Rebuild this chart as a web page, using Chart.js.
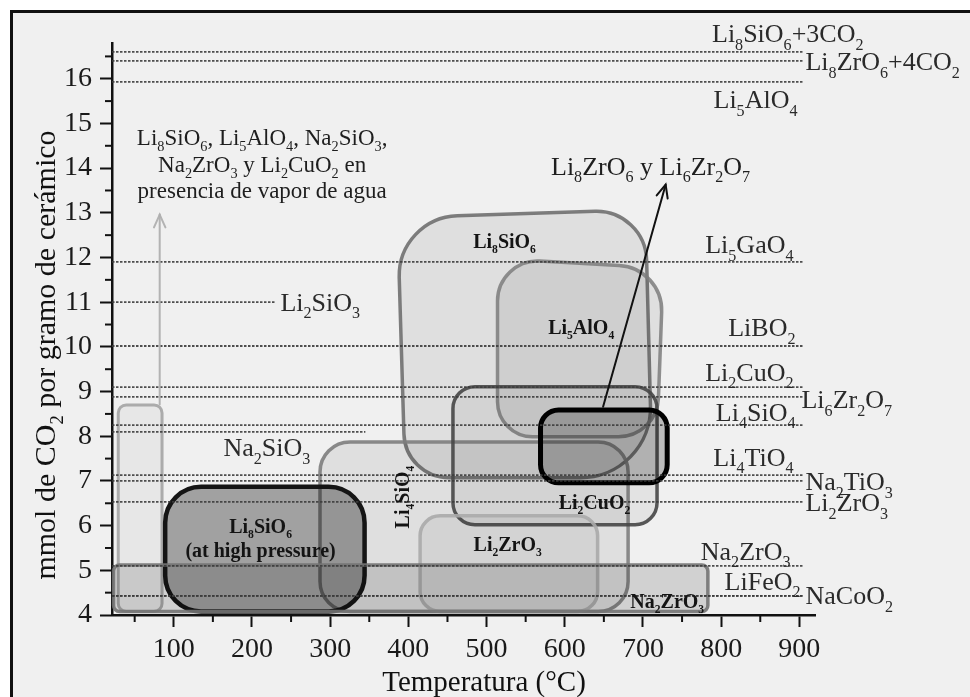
<!DOCTYPE html>
<html>
<head>
<meta charset="utf-8">
<script src="https://cdn.jsdelivr.net/npm/chart.js@4.4.1/dist/chart.umd.min.js"></script>
<style>
html,body{margin:0;padding:0;background:#fff;}
canvas{display:block;}
</style>
</head>
<body>
<canvas id="c" width="970" height="697"></canvas>
<script>
// ---------------- DATA ----------------
const xMajorTicks = [100, 200, 300, 400, 500, 600, 700, 800, 900];
const xMinorTicks = [50, 150, 250, 350, 450, 550, 650, 750, 850];
const yMajorTicks = [4, 5, 6, 7, 8, 9, 10, 11, 12, 13, 14, 15, 16];
const yMinorTicks = [4.5, 5.5, 6.5, 7.5, 8.5, 9.5, 10.5, 11.5, 12.5, 13.5, 14.5, 15.5, 16.5];

// theoretical capacities (reference dotted lines)
const refNames = ['Li8SiO6+3CO2', 'Li8ZrO6+4CO2', 'Li5AlO4', 'Li5GaO4', 'Li2SiO3', 'LiBO2', 'Li2CuO2',
  'Li6Zr2O7', 'Li4SiO4', 'Na2SiO3', 'Li4TiO4', 'Na2TiO3', 'Li2ZrO3', 'Na2ZrO3', 'LiFeO2', 'NaCoO2'];
const refCapacity = [16.60, 16.40, 15.93, 11.90, 11.00, 10.02, 9.10, 8.88, 8.25, 8.10, 7.13, 7.00, 6.53, 5.10, 4.43, 4.43];
const refTempStart = [21, 21, 21, 21, 21, 21, 21, 21, 21, 21, 21, 21, 21, 21, 21, 21];
const refTempEnd = [904, 904, 904, 904, 230, 904, 904, 904, 904, 345, 904, 904, 904, 904, 904, 904];

// experimental regions (rounded rectangles)
const boxNames = ['vapor de agua', 'Li8SiO6 (at high pressure)', 'Li4SiO4', 'Li2ZrO3', 'Li2CuO2', 'Na2ZrO3', 'Li8ZrO6 y Li6Zr2O7'];
const boxTempMin = [29, 89, 287, 415, 457, 23, 569];
const boxTempMax = [85, 344, 681, 642, 718, 783, 731];
const boxCapMin = [4.08, 4.08, 4.08, 4.08, 6.02, 4.08, 6.96];
const boxCapMax = [8.70, 6.87, 7.87, 6.22, 9.11, 5.12, 8.59];

// experimental regions (irregular rounded quadrilaterals: TL, TR, BR, BL)
const blobNames = ['Li8SiO6', 'Li5AlO4'];
const blobTemp = [[386, 703, 712, 396], [514, 726, 718, 514]];
const blobCap = [[12.89, 13.07, 7.07, 7.07], [11.97, 11.77, 7.99, 7.99]];

// arrows [start, end]
const arrowTemp = [[82, 82], [649, 729]];
const arrowCap = [[8.71, 12.96], [8.66, 13.63]];

// ---------------- LAYOUT / STYLE (not data) ----------------
const SERIF = '"Liberation Serif", "Times New Roman", Times, serif';
const refLabelSide = ['above', 'right', 'below', 'above', 'right', 'above', 'above', 'right', 'above', 'below', 'above', 'right', 'right', 'above', 'above', 'right'];
const refLabelDx = [61, 3, -5, -9, 5, -7, -9, -1, -7, -55, -9, 3, 3, -12, -2, 3];
const refLabelDy = [-9.5, 9.5, 26.5, -8.5, 8.5, -9.5, -6.5, 11.5, -4, 24.5, -9.5, 9.5, 9.5, -6, -6, 8.5];

const boxStyles = [
  {fill: 'rgba(0,0,0,0.035)', stroke: 'rgba(160,160,160,0.85)', lw: 3, r: 8},
  {fill: 'rgba(0,0,0,0.33)', stroke: '#151515', lw: 4.5, r: 36},
  {fill: 'rgba(0,0,0,0.07)', stroke: 'rgba(125,125,125,0.9)', lw: 3.5, r: 30},
  {fill: 'rgba(0,0,0,0.05)', stroke: 'rgba(170,170,170,0.9)', lw: 3.5, r: 20},
  {fill: 'rgba(0,0,0,0.05)', stroke: 'rgba(70,70,70,0.9)', lw: 3.5, r: 22},
  {fill: 'rgba(0,0,0,0.13)', stroke: 'rgba(115,115,115,0.9)', lw: 3.5, r: 6},
  {fill: 'rgba(0,0,0,0.22)', stroke: '#000', lw: 5, r: 18}
];
const blobStyles = [
  {fill: 'rgba(0,0,0,0.07)', stroke: 'rgba(105,105,105,0.85)', lw: 3.5, r: [60, 50, 70, 45]},
  {fill: 'rgba(0,0,0,0.07)', stroke: 'rgba(125,125,125,0.85)', lw: 3.5, r: [40, 45, 40, 35]}
];
// drawing order: ['b',i] = box, ['q',i] = blob
const shapeOrder = [['b', 0], ['q', 0], ['q', 1], ['b', 2], ['b', 4], ['b', 3], ['b', 1], ['b', 5], ['b', 6]];
const arrowStyles = [{color: 'rgba(175,175,175,0.95)', lw: 2}, {color: '#111', lw: 2}];

// text inside regions (center in data coords)
const regionText = ['Li8SiO6', 'Li5AlO4', 'Li4SiO4', 'Li2CuO2', 'Li2ZrO3', 'Li8SiO6', '(at high pressure)', 'Na2ZrO3'];
const regionTextT = [523, 621, 392, 638, 527, 211, 211, 731];
const regionTextC = [12.35, 10.43, 6.64, 6.53, 5.57, 5.99, 5.45, 4.31];
const regionTextRot = [0, 0, -90, 0, 0, 0, 0, 0];

// free annotations (baseline positions in data coords)
const noteText = ['Li8SiO6, Li5AlO4, Na2SiO3,', 'Na2ZrO3 y Li2CuO2 en', 'presencia de vapor de agua', 'Li8ZrO6 y Li6Zr2O7'];
const noteT = [213, 213, 213, 837];
const noteC = [14.52, 13.92, 13.34, 13.85];
const noteAlign = ['center', 'center', 'center', 'right'];
const noteSize = [23, 23, 23, 26];

// ---------------- HELPERS ----------------
function chemSegments(text) {
  const segs = [];
  let prev = '';
  for (const ch of text) {
    const d = ch >= '0' && ch <= '9';
    const last = segs[segs.length - 1];
    const sub = d && (/[A-Za-z)]/.test(prev) || (/[0-9]/.test(prev) && last && last.sub));
    if (last && last.sub === sub) last.t += ch; else segs.push({t: ch, sub});
    prev = ch;
  }
  return segs;
}
function drawChem(ctx, text, x, y, o) {
  const size = o.size, bold = o.bold ? 'bold ' : '';
  const subSize = size * (o.subScale || 0.62);
  const fMain = bold + size + 'px ' + SERIF, fSub = bold + subSize.toFixed(1) + 'px ' + SERIF;
  const segs = chemSegments(text);
  let w = 0;
  segs.forEach(s => { ctx.font = s.sub ? fSub : fMain; s.w = ctx.measureText(s.t).width; w += s.w; });
  let cx = o.align === 'right' ? x - w : (o.align === 'center' ? x - w / 2 : x);
  ctx.fillStyle = o.color || '#222';
  ctx.textBaseline = 'alphabetic';
  ctx.textAlign = 'left';
  segs.forEach(s => {
    ctx.font = s.sub ? fSub : fMain;
    ctx.fillText(s.t, cx, s.sub ? y + size * (o.subDrop || 0.28) : y);
    cx += s.w;
  });
}
function roundedPoly(ctx, pts, r) {
  const n = pts.length;
  const rr = Array.isArray(r) ? r : pts.map(() => r);
  const a0 = pts[n - 1], b0 = pts[0];
  ctx.beginPath();
  ctx.moveTo((a0.x + b0.x) / 2, (a0.y + b0.y) / 2);
  for (let i = 0; i < n; i++) {
    const a = pts[i], b = pts[(i + 1) % n];
    ctx.arcTo(a.x, a.y, (a.x + b.x) / 2, (a.y + b.y) / 2, rr[i]);
  }
  ctx.closePath();
}
function drawArrow(ctx, x1, y1, x2, y2, st) {
  const ang = Math.atan2(y2 - y1, x2 - x1), h = 14, spread = 0.42;
  ctx.save();
  ctx.strokeStyle = st.color; ctx.lineWidth = st.lw; ctx.lineCap = 'round';
  ctx.beginPath(); ctx.moveTo(x1, y1); ctx.lineTo(x2, y2); ctx.stroke();
  ctx.beginPath();
  ctx.moveTo(x2 - h * Math.cos(ang - spread), y2 - h * Math.sin(ang - spread));
  ctx.lineTo(x2, y2);
  ctx.lineTo(x2 - h * Math.cos(ang + spread), y2 - h * Math.sin(ang + spread));
  ctx.stroke();
  ctx.restore();
}

// ---------------- PLUGINS ----------------
const backgroundPlugin = {
  id: 'bg',
  beforeDraw(chart) {
    const ctx = chart.ctx;
    ctx.save();
    ctx.fillStyle = '#fff'; ctx.fillRect(0, 0, chart.width, chart.height);
    ctx.fillStyle = '#f0f0f0'; ctx.fillRect(10, 10, chart.width - 10, chart.height - 10);
    ctx.fillStyle = '#111'; ctx.fillRect(10, 10, 3, chart.height - 10); ctx.fillRect(10, 10, chart.width - 10, 3);
    ctx.restore();
  }
};

const shapesPlugin = {
  id: 'shapes',
  beforeDatasetsDraw(chart) {
    const ctx = chart.ctx, xs = chart.scales.x, ys = chart.scales.y;
    ctx.save();
    shapeOrder.forEach(([kind, i]) => {
      let pts, st;
      if (kind === 'b') {
        const x0 = xs.getPixelForValue(boxTempMin[i]), x1 = xs.getPixelForValue(boxTempMax[i]);
        const y0 = ys.getPixelForValue(boxCapMax[i]), y1 = ys.getPixelForValue(boxCapMin[i]);
        pts = [{x: x0, y: y0}, {x: x1, y: y0}, {x: x1, y: y1}, {x: x0, y: y1}];
        st = boxStyles[i];
      } else {
        pts = blobTemp[i].map((t, k) => ({x: xs.getPixelForValue(t), y: ys.getPixelForValue(blobCap[i][k])}));
        st = blobStyles[i];
      }
      roundedPoly(ctx, pts, st.r);
      ctx.fillStyle = st.fill; ctx.fill();
      ctx.strokeStyle = st.stroke; ctx.lineWidth = st.lw; ctx.lineJoin = 'round'; ctx.stroke();
    });
    ctx.restore();
  }
};

const textPlugin = {
  id: 'texts',
  afterDatasetsDraw(chart) {
    const ctx = chart.ctx, xs = chart.scales.x, ys = chart.scales.y;
    ctx.save();
    // minor ticks
    ctx.strokeStyle = '#111'; ctx.lineWidth = 2;
    xMinorTicks.forEach(v => { const p = xs.getPixelForValue(v); ctx.beginPath(); ctx.moveTo(p, ys.bottom); ctx.lineTo(p, ys.bottom + 7); ctx.stroke(); });
    yMinorTicks.forEach(v => { const p = ys.getPixelForValue(v); ctx.beginPath(); ctx.moveTo(xs.left, p); ctx.lineTo(xs.left - 7, p); ctx.stroke(); });
    // arrows
    arrowTemp.forEach((t, i) => {
      drawArrow(ctx, xs.getPixelForValue(t[0]), ys.getPixelForValue(arrowCap[i][0]),
        xs.getPixelForValue(t[1]), ys.getPixelForValue(arrowCap[i][1]), arrowStyles[i]);
    });
    // reference line labels
    refNames.forEach((name, i) => {
      const xe = xs.getPixelForValue(refTempEnd[i]), y = ys.getPixelForValue(refCapacity[i]);
      const side = refLabelSide[i];
      drawChem(ctx, name, xe + refLabelDx[i], y + refLabelDy[i],
        {size: 26, align: side === 'right' ? 'left' : 'right', color: '#2a2a2a'});
    });
    // region labels
    regionText.forEach((txt, i) => {
      const x = xs.getPixelForValue(regionTextT[i]), y = ys.getPixelForValue(regionTextC[i]);
      ctx.save();
      ctx.translate(x, y);
      if (regionTextRot[i]) ctx.rotate(regionTextRot[i] * Math.PI / 180);
      drawChem(ctx, txt, 0, 6.6, {size: 20, bold: true, align: 'center', color: '#141414', subScale: 0.58, subDrop: 0.25});
      ctx.restore();
    });
    // notes
    noteText.forEach((txt, i) => {
      drawChem(ctx, txt, xs.getPixelForValue(noteT[i]), ys.getPixelForValue(noteC[i]),
        {size: noteSize[i], align: noteAlign[i], color: '#1e1e1e'});
    });
    // axis titles
    ctx.fillStyle = '#111';
    ctx.font = '29px ' + SERIF; ctx.textAlign = 'center'; ctx.textBaseline = 'alphabetic';
    ctx.fillText('Temperatura (°C)', 484, 691);
    ctx.save();
    ctx.translate(55, 355); ctx.rotate(-Math.PI / 2);
    drawChem(ctx, 'mmol de CO2 por gramo de cerámico', 0, 0, {size: 30, align: 'center', color: '#111'});
    ctx.restore();
    ctx.restore();
  }
};

// ---------------- CHART ----------------
const datasets = refCapacity.map((c, i) => ({
  label: refNames[i],
  data: [{x: refTempStart[i], y: c}, {x: refTempEnd[i], y: c}],
  showLine: true,
  pointRadius: 0,
  borderColor: 'rgba(60,60,60,0.9)',
  borderWidth: 1.8,
  borderDash: [2.5, 1.5],
  fill: false
}));

new Chart(document.getElementById('c'), {
  type: 'scatter',
  data: {datasets},
  plugins: [backgroundPlugin, shapesPlugin, textPlugin],
  options: {
    responsive: false,
    animation: false,
    events: [],
    layout: {padding: {top: 43, right: 155, left: 0, bottom: 0}},
    plugins: {legend: {display: false}, tooltip: {enabled: false}},
    scales: {
      x: {
        type: 'linear', min: 21, max: 920,
        afterBuildTicks: s => { s.ticks = xMajorTicks.map(v => ({value: v})); },
        afterFit: s => { s.height = 82; },
        grid: {display: true, drawOnChartArea: false, drawTicks: true, tickLength: 12, tickWidth: 2, tickColor: '#111'},
        border: {display: true, color: '#111', width: 2.5},
        ticks: {autoSkip: false, maxRotation: 0, padding: 6, color: '#1a1a1a', font: {family: SERIF, size: 28},
          callback: v => String(v)}
      },
      y: {
        type: 'linear', min: 4, max: 16.8,
        afterBuildTicks: s => { s.ticks = yMajorTicks.map(v => ({value: v})); },
        afterFit: s => { s.width = 112; },
        grid: {display: true, drawOnChartArea: false, drawTicks: true, tickLength: 12, tickWidth: 2, tickColor: '#111'},
        border: {display: true, color: '#111', width: 2.5},
        ticks: {autoSkip: false, padding: 8, color: '#1a1a1a', font: {family: SERIF, size: 28},
          callback: v => String(v)}
      }
    }
  }
});
</script>
</body>
</html>
